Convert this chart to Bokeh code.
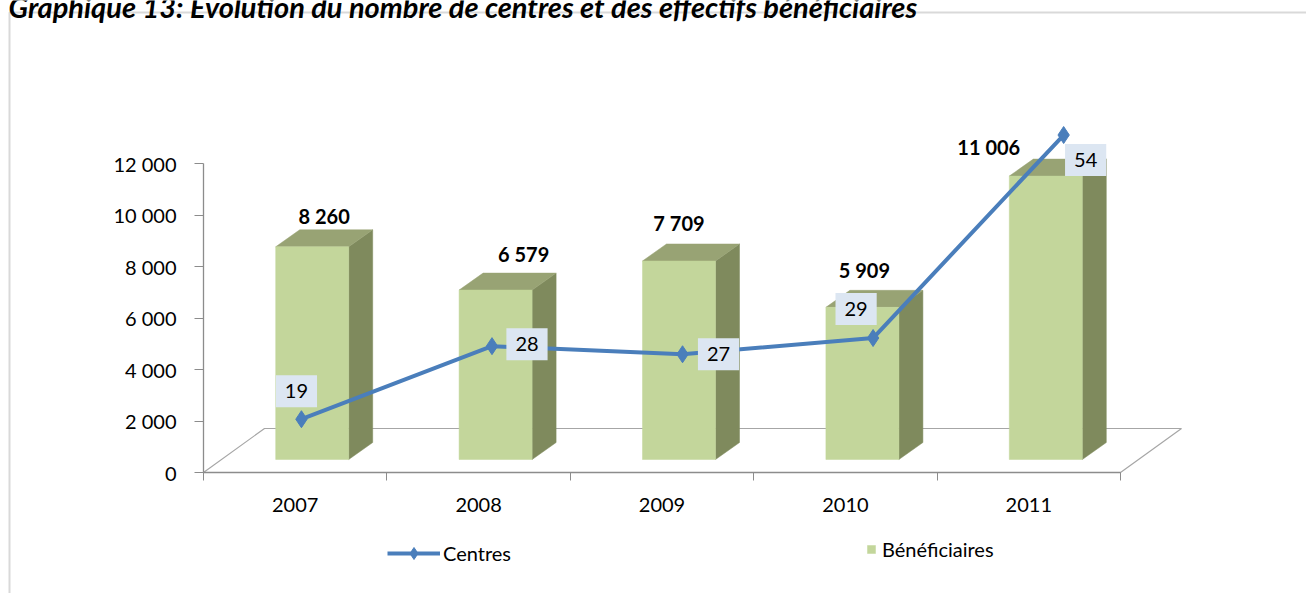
from bokeh.plotting import figure
from bokeh.models import (Range1d, FixedTicker, ColumnDataSource, LabelSet, Legend,
                          LegendItem, BoxAnnotation, Label)
from bokeh.core.properties import value
from bokeh.embed import file_html
from bokeh.resources import INLINE

# ---------------- data ----------------
years = ["2007", "2008", "2009", "2010", "2011"]
beneficiaires = [8260, 6579, 7709, 5909, 11006]
beneficiaires_labels = ["8 260", "6 579", "7 709", "5 909", "11 006"]
centres = [19, 28, 27, 29, 54]
centres_labels = ["19", "28", "27", "29", "54"]
y_ticks = [0, 2000, 4000, 6000, 8000, 10000, 12000]
y_tick_labels = ["0", "2 000", "4 000", "6 000", "8 000", "10 000", "12 000"]
title_text = "Graphique 13: Evolution du nombre de centres et des effectifs bénéficiaires"

# ---------------- layout / style (pixels) ----------------
FONT = "Lato"
W, H = 1306, 593
AX_X, AX_Y = 203, 472     # pixel position of the axes corner
SX = 183.4                # px per category
SY = 309.0 / 12000.0      # px per unit (primary axis)
SC = 8.12                 # px per unit (centres)
C0_PX = 573               # pixel row where centres = 0

BAR_OFF = 17 / SX
BAR_W = 73 / SX
BASE = 13 / SY
DX, DY = 24 / SX, 17 / SY
FDX, FDY = 61 / SX, 44 / SY
LINE_SKEW0, LINE_SKEW = 0.034, 0.039

FRONT = "#c3d69b"
SIDE = "#7f8a5d"
TOP = "#98a374"
BLUE = "#4a7ebb"
GRAY = "#8c8c8c"

p = figure(width=W, height=H, output_backend="svg", toolbar_location=None,
           x_range=Range1d(-0.5 - AX_X / SX, -0.5 + (W - AX_X) / SX),
           y_range=Range1d(-(H - AX_Y) / SY, AX_Y / SY),
           min_border=0, min_border_left=0, min_border_right=0,
           min_border_top=0, min_border_bottom=0)
p.extra_y_ranges = {"centres": Range1d(-(H - C0_PX) / SC, C0_PX / SC)}
p.outline_line_color = None
p.xgrid.visible = False
p.ygrid.visible = False
p.background_fill_color = "white"
p.border_fill_color = "white"

# floor
n = len(years)
p.patch([-0.5, n - 0.5, n - 0.5 + FDX, -0.5 + FDX], [0, 0, FDY, FDY],
        fill_color="white", line_color="#a6a6a6", line_width=1.2)

# 3D bars
idx = list(range(n))
lefts = [i + BAR_OFF - BAR_W / 2 for i in idx]
rights = [i + BAR_OFF + BAR_W / 2 for i in idx]
tops = [BASE + v for v in beneficiaires]
side_xs = [[r, r + DX, r + DX, r] for r in rights]
side_ys = [[BASE, BASE + DY, t + DY, t] for t in tops]
top_xs = [[l, r, r + DX, l + DX] for l, r in zip(lefts, rights)]
top_ys = [[t, t, t + DY, t + DY] for t in tops]
p.patches(side_xs, side_ys, fill_color=SIDE, line_color=SIDE, line_width=0.5)
p.patches(top_xs, top_ys, fill_color=TOP, line_color=TOP, line_width=0.5)
bars = p.quad(left=lefts, right=rights, bottom=BASE, top=tops,
              fill_color=FRONT, line_color=FRONT, line_width=0.5)

# bar labels
bsrc = ColumnDataSource(dict(x=[i + BAR_OFF for i in idx], y=tops, t=beneficiaires_labels,
                             dx=[12, 28, 0, 2, -57], dy=[31, 36, 38, 37, 29]))
p.add_layout(LabelSet(x="x", y="y", text="t", source=bsrc, x_offset="dx", y_offset="dy",
                      text_align="center", text_baseline="middle",
                      text_font=value(FONT), text_font_size="20px", text_font_style="bold",
                      text_color="black"))

# centres line
lx = [i + LINE_SKEW0 + LINE_SKEW * i for i in idx]
ln = p.line(lx, centres, y_range_name="centres", line_color=BLUE, line_width=4)
mk = p.scatter(lx, centres, y_range_name="centres", marker="diamond", size=17,
               fill_color=BLUE, line_color=BLUE)
c_dx = [-5, 35, 36, -17, 22]
c_dy = [28, 2, 0, 29, -25]
for x, y, t, ox, oy in zip(lx, centres, centres_labels, c_dx, c_dy):
    p.add_layout(Label(x=x, y=y, text=t, y_range_name="centres",
                       x_offset=ox, y_offset=oy, text_align="center", text_baseline="middle",
                       text_font=FONT, text_font_size="20px", text_color="black",
                       background_fill_color="#dce6f2", padding=(9, 9)))

# axes drawn at fixed locations inside a full-canvas frame
ya = p.yaxis[0]
ya.fixed_location = -0.5
ya.ticker = FixedTicker(ticks=y_ticks)
ya.major_label_overrides = {t: l for t, l in zip(y_ticks, y_tick_labels)}
ya.bounds = (y_ticks[0], y_ticks[-1])
ya.axis_line_color = GRAY
ya.axis_line_width = 1.3
ya.major_tick_line_color = GRAY
ya.major_tick_out = 9
ya.major_tick_in = 0
ya.minor_tick_line_color = None
ya.major_label_standoff = 18
ya.major_label_text_font = FONT
ya.major_label_text_font_size = "20px"
ya.major_label_text_color = "black"

xa = p.xaxis[0]
xa.fixed_location = 0
xa.ticker = FixedTicker(ticks=idx, minor_ticks=[i - 0.5 for i in range(n + 1)])
xa.major_label_overrides = {i: y for i, y in zip(idx, years)}
xa.bounds = (-0.5, n - 0.5)
xa.axis_line_color = GRAY
xa.axis_line_width = 1.3
xa.major_tick_line_color = None
xa.major_tick_out = 0
xa.major_tick_in = 0
xa.minor_tick_line_color = GRAY
xa.minor_tick_out = 8
xa.minor_tick_in = 0
xa.major_label_standoff = 17
xa.major_label_text_font = FONT
xa.major_label_text_font_size = "20px"
xa.major_label_text_color = "black"

# legends
leg1 = Legend(items=[LegendItem(label="Centres", renderers=[ln, mk])],
              location=(387, 25), glyph_width=53, glyph_height=30, label_height=30,
              label_standoff=3, padding=0, margin=0, border_line_color=None,
              background_fill_alpha=0, label_text_font=FONT, label_text_font_size="20px",
              label_text_color="black")
leg2 = Legend(items=[LegendItem(label="Bénéficiaires", renderers=[bars])],
              location=(866, 32), glyph_width=10, glyph_height=10, label_height=10,
              label_standoff=6, padding=0, margin=0, border_line_color=None,
              background_fill_alpha=0, label_text_font=FONT, label_text_font_size="20px",
              label_text_color="black")
p.add_layout(leg1)
p.add_layout(leg2)

# caption (cut by the top edge, as in the source) and frame box
p.add_layout(BoxAnnotation(left=9, right=W + 20, top=12, bottom=H + 20,
                           left_units="canvas", right_units="canvas",
                           top_units="canvas", bottom_units="canvas",
                           fill_alpha=0, line_color="#808080", line_width=2))
p.add_layout(Label(x=8, y=6, x_units="canvas", y_units="canvas", text=title_text,
                   text_font=FONT, text_font_size="29px", text_font_style="bold italic",
                   text_baseline="alphabetic", text_color="black"))

open("out.html", "w").write(file_html(p, INLINE))
